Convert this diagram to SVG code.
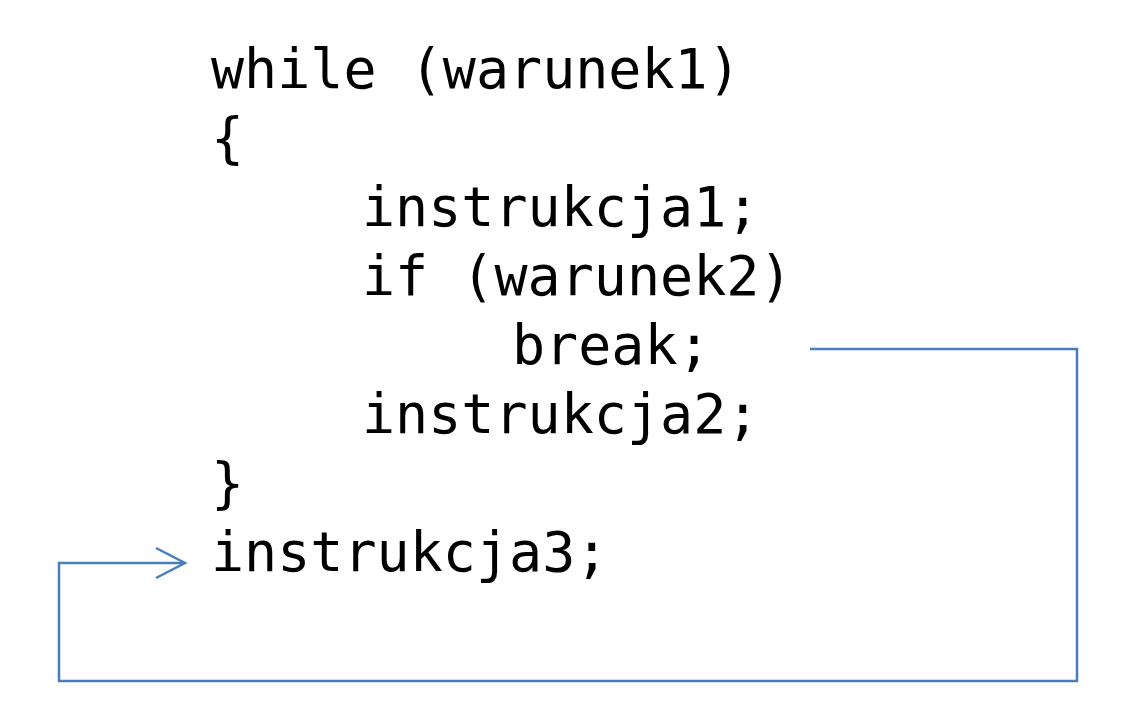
<svg xmlns="http://www.w3.org/2000/svg" width="1130" height="725" viewBox="0 0 1130 725">
<style>
.code{font-family:"DejaVu Sans Mono","Liberation Mono",monospace;font-size:55px;fill:#000}
.conn{fill:none;stroke:#4A7EBB;stroke-width:2.5}
</style>
<rect width="1130" height="725" fill="#fff"/>
<g id="code">
<text class="code" x="211" y="88">while (warunek1)</text>
<text class="code" x="211" y="157">{</text>
<text class="code" x="362" y="226">instrukcja1;</text>
<text class="code" x="362" y="295">if (warunek2)</text>
<text class="code" x="512" y="364">break;</text>
<text class="code" x="362" y="433">instrukcja2;</text>
<text class="code" x="211" y="502">}</text>
<text class="code" x="211" y="571">instrukcja3;</text>
</g>
<g id="connectors">
<path class="conn" d="M810,349 H1077 V681 H59 V563 H184"/>
<path class="conn" d="M156,548 L185,563 L156,578"/>
</g>
</svg>
